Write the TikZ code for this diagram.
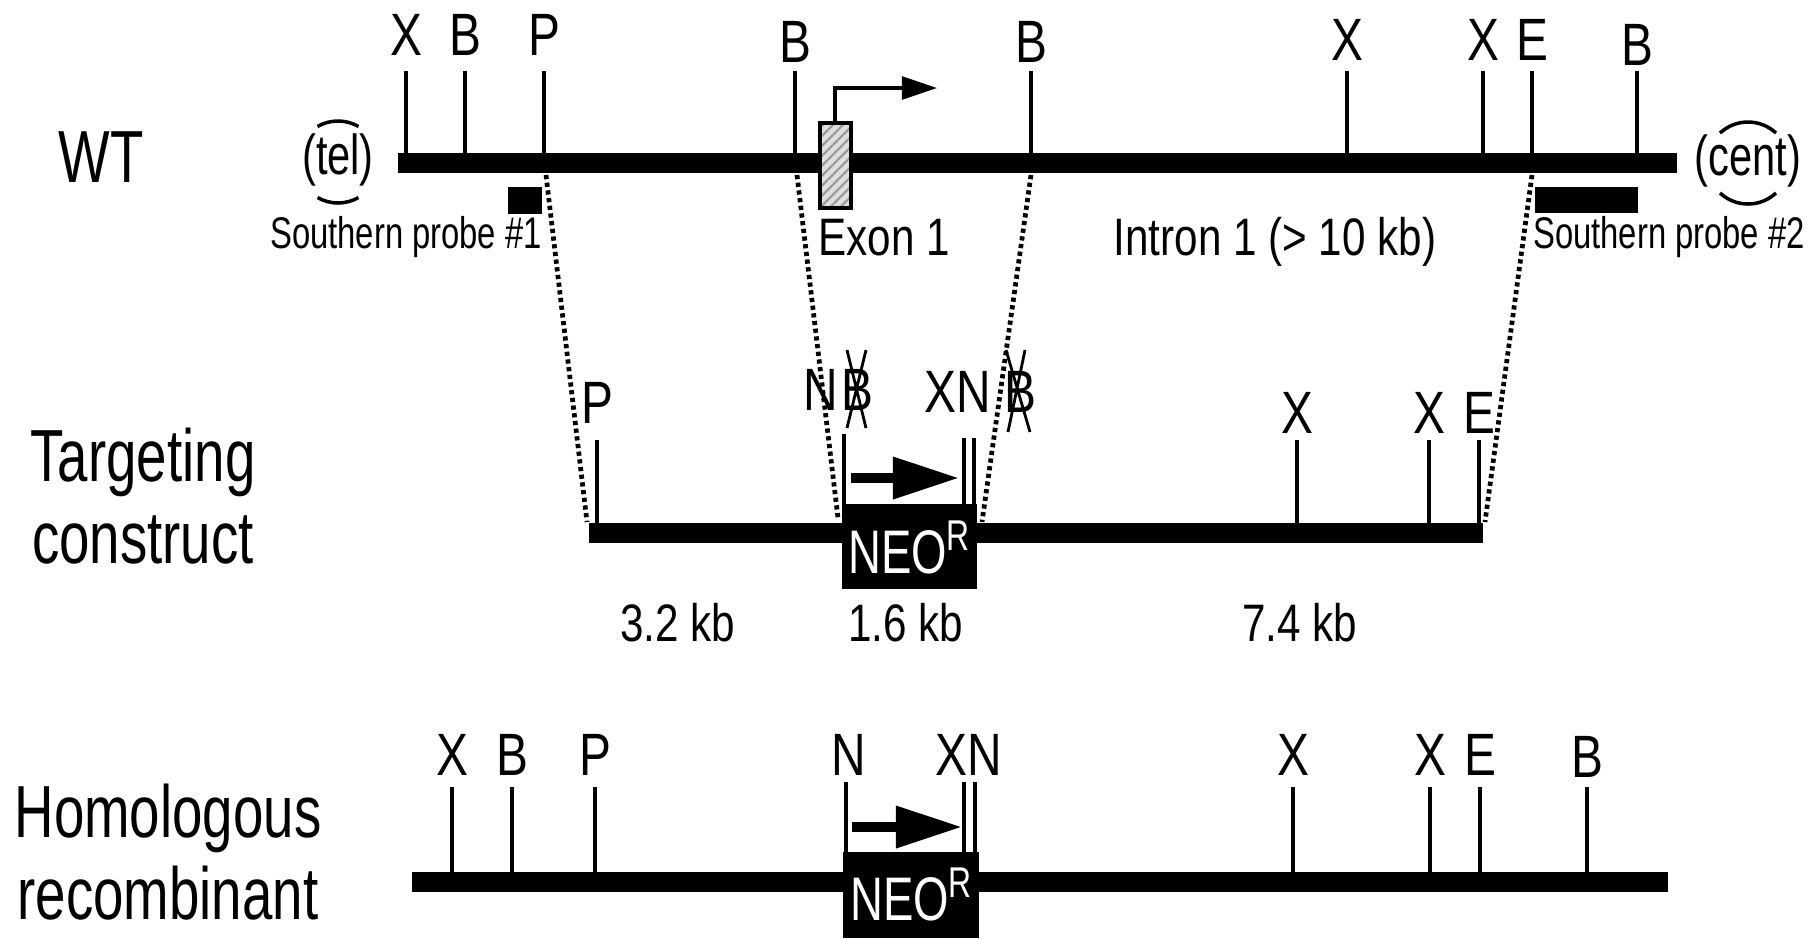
\documentclass[tikz,border=0pt]{standalone}
\usepackage{fontspec}
\setmainfont[FakeStretch=0.8]{Liberation Sans}
\newfontfamily\narrowfont[FakeStretch=0.74]{Liberation Sans}
\usetikzlibrary{arrows.meta,patterns.meta}

\begin{document}
\begin{tikzpicture}[x=0.01cm,y=-0.01cm,
  dna/.style={line width=5.7pt},
  cut/.style={line width=1.15pt},
  link/.style={line width=1.35pt,dash pattern=on 1.2pt off 1pt},
  sitelab/.style={anchor=base,inner sep=0pt,font=\fontsize{17}{20}\selectfont},
  rowlab/.style={align=center,inner sep=0pt,font=\narrowfont\fontsize{21}{23.5}\selectfont},
  note/.style={anchor=base,inner sep=0pt,font=\fontsize{15}{18}\selectfont},
  probelab/.style={anchor=base,inner sep=0pt,font=\narrowfont\fontsize{12.6}{15}\selectfont},
  endlab/.style={inner sep=0pt,font=\narrowfont\fontsize{16}{19}\selectfont},
  neolab/.style={anchor=base,inner sep=0pt,text=white,font=\narrowfont\fontsize{17.5}{20}\selectfont}]
  \useasboundingbox (0,0) rectangle (1820,938);

  % WT allele
  \node[rowlab] (wt) at (101,157) {WT};
  \draw[dna] (398,163) -- (1677,163);
  \foreach \x/\b/\lab in {406/55/X, 465/55/B, 544/55/P, 795/62/B, 1031/62/B,
                          1347/60/X, 1483/60/X, 1532/60/E, 1637/65/B} {
    \draw[cut] (\x,71) -- (\x,163);
    \node[sitelab] (wt-\x) at (\x,\b) {\lab};
  }
  \node[endlab] (tel) at (338,160) {(tel)};
  \draw[line width=1pt] (338,162) ++(60:41) arc (60:120:41);
  \draw[line width=1pt] (338,162) ++(240:41) arc (240:300:41);
  \node[endlab] (cent) at (1748,161) {(cent)};
  \draw[line width=1pt] (1748,163) ++(47:41) arc (47:133:41);
  \draw[line width=1pt] (1748,163) ++(227:41) arc (227:313:41);
  % exon 1 and promoter
  \fill[gray!25] (820,123) rectangle (851,208);
  \draw[line width=0.9pt,pattern={Lines[angle=45,distance=2pt,line width=0.6pt]},
        pattern color=gray!80] (820,123) rectangle (851,208);
  \draw[line width=1pt,-{Triangle[length=10pt,width=6.5pt]}] (835,123) |- (937,88);
  % probes
  \fill (508,187) rectangle (542,214);
  \fill (1535,187) rectangle (1638,213);
  \node[probelab] (probe1) at (406,248) {Southern probe \#1};
  \node[probelab] (probe2) at (1669,248) {Southern probe \#2};
  \node[note] (exon) at (884,255) {Exon 1};
  \node[note] (intron) at (1275,255) {Intron 1 (> 10 kb)};
  \coordinate (wtP) at (546,175);
  \coordinate (wtB1) at (797,175);
  \coordinate (wtB2) at (1031,175);
  \coordinate (wtE) at (1532,175);

  % targeting construct
  \node[rowlab] (tc) at (143,496) {Targeting\\construct};
  \draw[dna] (589,533) -- (1483,533);
  \foreach \x/\b/\lab in {597/423/P, 1297/433/X, 1429/433/X, 1479/433/E} {
    \draw[cut] (\x,440) -- (\x,533);
    \node[sitelab] (tc-\x) at (\x,\b) {\lab};
  }
  \fill (842,504) rectangle (977,589);
  \draw[cut] (844,434) -- (844,504);
  \draw[cut] (964,438) -- (964,504);
  \draw[cut] (974,438) -- (974,504);
  \node[sitelab] (tc-n) at (821,410) {N};
  \node[sitelab] (tc-b1) at (857,410) {B};
  \draw[line width=0.8pt] (847,350) -- (866,428) (866,350) -- (847,428);
  \node[sitelab] (tc-xn) at (958,412) {XN};
  \node[sitelab] (tc-b2) at (1020,412) {B};
  \draw[line width=0.8pt] (1006,350) -- (1030,432) (1025,350) -- (1008,432);
  \draw[line width=2.8pt,-{Triangle[length=18.8pt,width=11.4pt]}] (851,478) -- (959,478);
  \node[neolab] (tc-neo) at (910,573) {NEO\textsuperscript{R}};
  \node[note] (len1) at (678,641) {3.2 kb};
  \node[note] (len2) at (906,641) {1.6 kb};
  \node[note] (len3) at (1300,641) {7.4 kb};
  \coordinate (tcP) at (587,522);
  \coordinate (tcN) at (838,518);
  \coordinate (tcB) at (982,522);
  \coordinate (tcE) at (1485,522);

  % homology arms
  \draw[link] (wtP) -- (tcP);
  \draw[link] (wtB1) -- (tcN);
  \draw[link] (wtB2) -- (tcB);
  \draw[link] (wtE) -- (tcE);

  % homologous recombinant
  \node[rowlab] (hr) at (168,852) {Homologous\\recombinant};
  \draw[dna] (412,882) -- (1668,882);
  \foreach \x/\b/\lab in {452/775/X, 512/775/B, 595/775/P, 1293/775/X,
                          1430/775/X, 1480/775/E, 1587/777/B} {
    \draw[cut] (\x,787) -- (\x,882);
    \node[sitelab] (hr-\x) at (\x,\b) {\lab};
  }
  \fill (843,852) rectangle (979,938);
  \draw[cut] (846,782) -- (846,852);
  \draw[cut] (964,782) -- (964,852);
  \draw[cut] (975,782) -- (975,852);
  \node[sitelab] (hr-n) at (849,775) {N};
  \node[sitelab] (hr-xn) at (969,775) {XN};
  \draw[line width=2.8pt,-{Triangle[length=18.8pt,width=11.4pt]}] (852,827) -- (962,827);
  \node[neolab] (hr-neo) at (912,920) {NEO\textsuperscript{R}};
\end{tikzpicture}
\end{document}
